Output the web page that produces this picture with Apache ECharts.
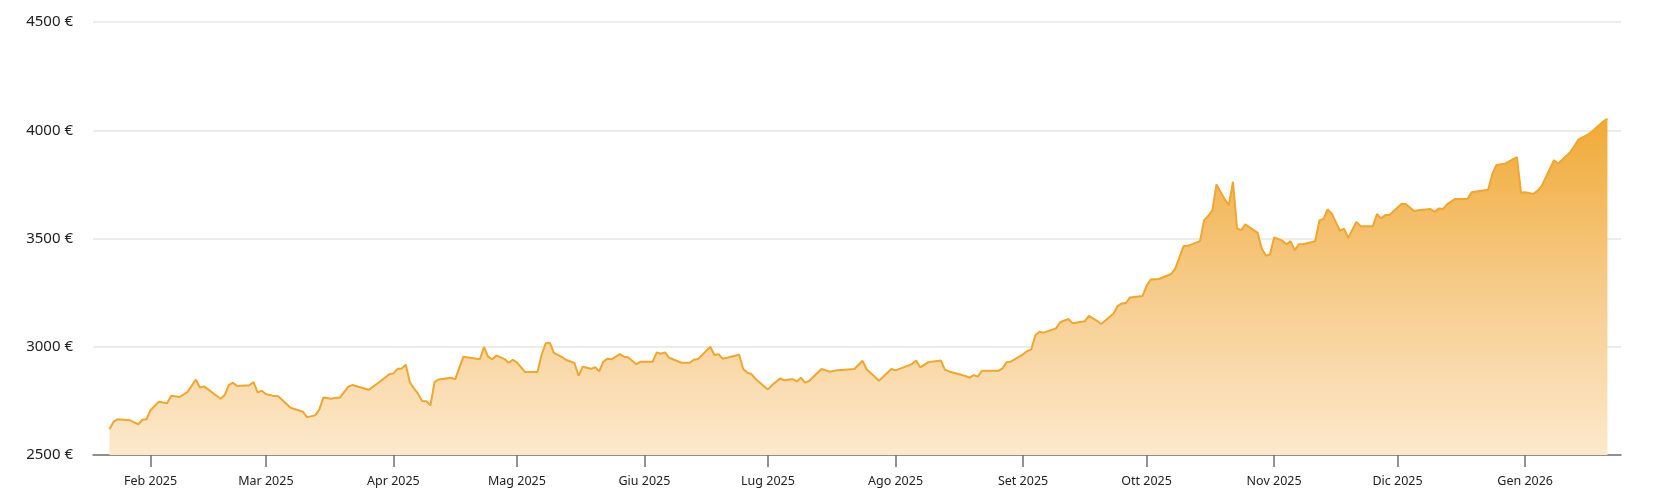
<!DOCTYPE html>
<html>
<head>
<meta charset="utf-8">
<script src="https://cdn.jsdelivr.net/npm/echarts@6/dist/echarts.min.js"></script>
<style>
html,body{margin:0;padding:0;background:#fff;}
#chart{width:1654px;height:501px;}
</style>
</head>
<body>
<div id="chart"></div>
<script>
const dates = [
'2025-01-22','2025-01-23','2025-01-24','2025-01-27','2025-01-29','2025-01-30','2025-01-31',
'2025-02-01','2025-02-03','2025-02-05','2025-02-06','2025-02-08','2025-02-10','2025-02-12','2025-02-13','2025-02-14','2025-02-18','2025-02-19','2025-02-20','2025-02-21','2025-02-22','2025-02-25','2025-02-26','2025-02-27','2025-02-28',
'2025-03-01','2025-03-03','2025-03-04','2025-03-05','2025-03-07','2025-03-10','2025-03-11','2025-03-13','2025-03-14','2025-03-15','2025-03-17','2025-03-18','2025-03-19','2025-03-21','2025-03-22','2025-03-26','2025-03-29','2025-03-31',
'2025-04-01','2025-04-02','2025-04-03','2025-04-04','2025-04-05','2025-04-06','2025-04-07','2025-04-08','2025-04-09','2025-04-10','2025-04-11','2025-04-12','2025-04-15','2025-04-16','2025-04-18','2025-04-22','2025-04-23','2025-04-24','2025-04-25','2025-04-26','2025-04-28','2025-04-29','2025-04-30',
'2025-05-01','2025-05-03','2025-05-06','2025-05-07','2025-05-08','2025-05-09','2025-05-10','2025-05-12','2025-05-13','2025-05-15','2025-05-16','2025-05-17','2025-05-19','2025-05-20','2025-05-21','2025-05-22','2025-05-23','2025-05-24','2025-05-26','2025-05-27','2025-05-28','2025-05-30','2025-05-31',
'2025-06-03','2025-06-04','2025-06-05','2025-06-06','2025-06-07','2025-06-10','2025-06-12','2025-06-13','2025-06-14','2025-06-17','2025-06-18','2025-06-19','2025-06-20','2025-06-24','2025-06-25','2025-06-26','2025-06-27','2025-06-28',
'2025-07-01','2025-07-02','2025-07-04','2025-07-05','2025-07-07','2025-07-08','2025-07-09','2025-07-10','2025-07-11','2025-07-14','2025-07-16','2025-07-18','2025-07-22','2025-07-24','2025-07-25','2025-07-28','2025-07-31',
'2025-08-01','2025-08-05','2025-08-06','2025-08-07','2025-08-09','2025-08-12','2025-08-13','2025-08-14','2025-08-18','2025-08-19','2025-08-20','2025-08-21','2025-08-22','2025-08-26','2025-08-27','2025-08-28','2025-08-29',
'2025-09-01','2025-09-02','2025-09-03','2025-09-04','2025-09-05','2025-09-06','2025-09-09','2025-09-10','2025-09-12','2025-09-13','2025-09-16','2025-09-17','2025-09-19','2025-09-20','2025-09-23','2025-09-24','2025-09-25','2025-09-26','2025-09-27','2025-09-30',
'2025-10-01','2025-10-02','2025-10-04','2025-10-07','2025-10-08','2025-10-09','2025-10-10','2025-10-11','2025-10-14','2025-10-15','2025-10-16','2025-10-17','2025-10-18','2025-10-20','2025-10-21','2025-10-22','2025-10-23','2025-10-24','2025-10-25','2025-10-28','2025-10-29','2025-10-30','2025-10-31',
'2025-11-01','2025-11-03','2025-11-04','2025-11-05','2025-11-06','2025-11-07','2025-11-08','2025-11-11','2025-11-12','2025-11-13','2025-11-14','2025-11-15','2025-11-17','2025-11-18','2025-11-19','2025-11-21','2025-11-22','2025-11-25','2025-11-26','2025-11-27','2025-11-28','2025-11-29',
'2025-12-02','2025-12-03','2025-12-05','2025-12-06','2025-12-09','2025-12-10','2025-12-11','2025-12-12','2025-12-13','2025-12-15','2025-12-16','2025-12-18','2025-12-19','2025-12-23','2025-12-24','2025-12-25','2025-12-27','2025-12-30','2025-12-31',
'2026-01-01','2026-01-03','2026-01-04','2026-01-05','2026-01-08','2026-01-09','2026-01-12','2026-01-13','2026-01-14','2026-01-16','2026-01-17','2026-01-19','2026-01-20','2026-01-21'
];
const prices = [
2619,2654,2665,2660,2642,2663,2665,
2708,2746,2739,2774,2768,2792,2848,2811,2817,2760,2777,2823,2834,2819,2822,2837,2789,2797,
2782,2772,2771,2754,2718,2700,2675,2683,2711,2766,2760,2765,2765,2815,2823,2801,2843,2873,
2877,2898,2900,2917,2836,2808,2782,2749,2748,2730,2837,2849,2857,2849,2954,2942,2999,2954,2942,2960,2943,2926,2940,
2928,2883,2883,2962,3016,3019,2972,2952,2939,2925,2866,2908,2898,2906,2886,2931,2945,2942,2966,2954,2952,2919,2931,
2931,2974,2968,2974,2949,2926,2926,2940,2943,3000,2962,2966,2945,2963,2897,2880,2874,2851,
2803,2823,2854,2845,2851,2840,2857,2834,2842,2897,2885,2892,2897,2935,2896,2843,2897,
2891,2920,2937,2905,2929,2937,2894,2886,2865,2857,2869,2862,2889,2889,2900,2929,2931,
2965,2980,2988,3054,3069,3065,3085,3113,3128,3109,3118,3143,3120,3105,3154,3189,3200,3202,3228,3234,
3280,3311,3313,3336,3362,3413,3465,3466,3488,3585,3604,3631,3750,3681,3654,3762,3547,3539,3565,3526,3454,3420,3427,
3505,3490,3473,3488,3446,3473,3473,3487,3583,3591,3634,3616,3536,3545,3503,3577,3557,3557,3613,3593,3608,3609,
3660,3659,3627,3631,3636,3623,3639,3636,3658,3683,3682,3683,3714,3725,3797,3839,3845,3876,3711,
3714,3706,3720,3742,3862,3845,3900,3928,3958,3977,3990,4024,4041,4053
];
const monthStarts = ['2025-02-01','2025-03-01','2025-04-01','2025-05-01','2025-06-01','2025-07-01','2025-08-01','2025-09-01','2025-10-01','2025-11-01','2025-12-01','2026-01-01'];
const monthLabels = ['Feb 2025','Mar 2025','Apr 2025','Mag 2025','Giu 2025','Lug 2025','Ago 2025','Set 2025','Ott 2025','Nov 2025','Dic 2025','Gen 2026'];
const yTicks = [2500, 3000, 3500, 4000, 4500];

function ts(s){ const p = s.split('-').map(Number); return Date.UTC(p[0], p[1]-1, p[2]); }
const monthTs = monthStarts.map(ts);
const seriesData = dates.map((d, i) => [ts(d), prices[i]]);

const chart = echarts.init(document.getElementById('chart'), null, {renderer: 'canvas'});
const FONT = '"Noto Sans", "Open Sans", sans-serif';
chart.setOption({
  animation: false,
  grid: {left: 93, right: 33, top: 22, bottom: 46, containLabel: false},
  xAxis: {
    type: 'value',
    min: ts('2025-01-18'),
    max: ts('2026-01-24') + 7 * 3600000,
    axisLine: {show: true, lineStyle: {color: '#707070', width: 1.5}},
    axisTick: {show: true, length: 12, lineStyle: {color: '#707070', width: 1.5}, customValues: monthTs},
    axisLabel: {
      customValues: monthTs,
      margin: 20,
      fontSize: 12.5,
      color: '#222',
      fontFamily: FONT,
      formatter: function (v) {
        const i = monthTs.indexOf(v);
        return i >= 0 ? monthLabels[i] : '';
      }
    },
    splitLine: {show: false}
  },
  yAxis: {
    type: 'value',
    min: yTicks[0],
    max: yTicks[yTicks.length - 1],
    interval: 500,
    axisLine: {show: false},
    axisTick: {show: false},
    axisLabel: {
      margin: 20,
      fontSize: 15,
      color: '#222',
      fontFamily: FONT,
      formatter: function (v) { return v + ' €'; }
    },
    splitLine: {show: true, lineStyle: {color: '#e6e6e6', width: 1.5}}
  },
  series: [{
    type: 'line',
    data: seriesData,
    showSymbol: false,
    symbol: 'none',
    lineStyle: {color: '#F0A630', width: 2},
    itemStyle: {color: '#F0A630'},
    areaStyle: {
      opacity: 1,
      color: new echarts.graphic.LinearGradient(0, 0, 0, 1, [
        {offset: 0, color: '#F1AA36'},
        {offset: 0.5, color: '#F6CB8A'},
        {offset: 1, color: '#FCE9CC'}
      ])
    }
  }]
});
</script>
</body>
</html>
